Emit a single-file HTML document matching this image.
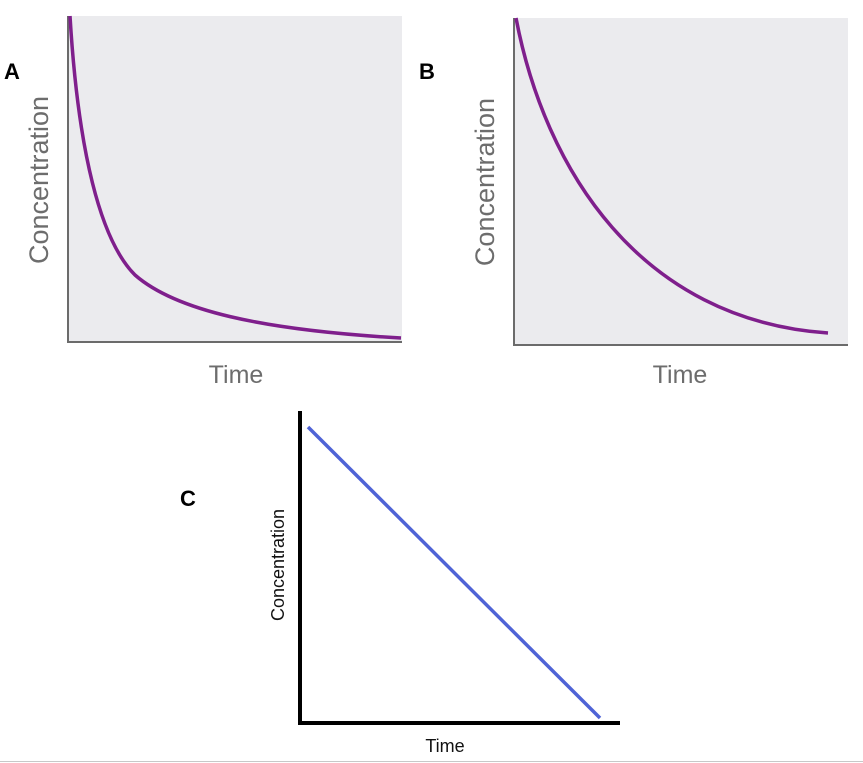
<!DOCTYPE html>
<html><head><style>
html,body{margin:0;padding:0;background:#fff;width:863px;height:763px;overflow:hidden}
</style></head><body>
<svg width="863" height="763" xmlns="http://www.w3.org/2000/svg">
<rect x="68" y="16" width="334" height="326" fill="#ebebee"/>
<path d="M68,16 V342 H402" fill="none" stroke="#6b6b6b" stroke-width="2"/>
<path d="M70,16 C78,150 100,240 135,275 C175,310 260,330 401,338" fill="none" stroke="#7f1f8c" stroke-width="3.5"/>
<text x="48" y="180" transform="rotate(-90 48 180)" text-anchor="middle" font-family="Liberation Sans, sans-serif" font-size="27" fill="#6d6d6d">Concentration</text>
<text x="236" y="383" text-anchor="middle" font-family="Liberation Sans, sans-serif" font-size="25" fill="#6d6d6d">Time</text>
<text x="4" y="79" font-family="Liberation Sans, sans-serif" font-size="22" font-weight="bold">A</text>

<rect x="514" y="18" width="334" height="327" fill="#ebebee"/>
<path d="M514,18 V345 H848" fill="none" stroke="#6b6b6b" stroke-width="2"/>
<path d="M516,18 C545,170 640,320 828,333" fill="none" stroke="#7f1f8c" stroke-width="3.5"/>
<text x="494" y="182" transform="rotate(-90 494 182)" text-anchor="middle" font-family="Liberation Sans, sans-serif" font-size="27" fill="#6d6d6d">Concentration</text>
<text x="680" y="383" text-anchor="middle" font-family="Liberation Sans, sans-serif" font-size="25" fill="#6d6d6d">Time</text>
<text x="419" y="79" font-family="Liberation Sans, sans-serif" font-size="22" font-weight="bold">B</text>

<path d="M300,411 V723 H620" fill="none" stroke="#000" stroke-width="4"/>
<line x1="308" y1="427" x2="600" y2="718" stroke="#4f63d6" stroke-width="3.5"/>
<text x="284" y="565" transform="rotate(-90 284 565)" text-anchor="middle" font-family="Liberation Sans, sans-serif" font-size="18" fill="#111">Concentration</text>
<text x="445" y="752" text-anchor="middle" font-family="Liberation Sans, sans-serif" font-size="18" fill="#111">Time</text>
<text x="180" y="506" font-family="Liberation Sans, sans-serif" font-size="22" font-weight="bold">C</text>

<line x1="0" y1="761.5" x2="863" y2="761.5" stroke="#c8c8c8" stroke-width="1"/>
</svg>
</body></html>
